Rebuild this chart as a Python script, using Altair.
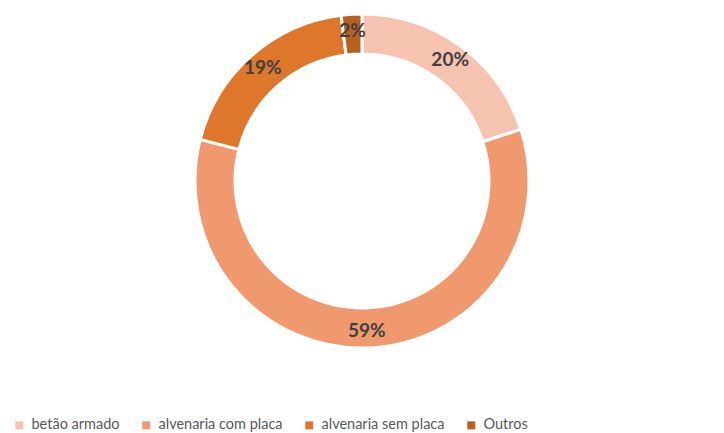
import altair as alt
import pandas as pd

categories = ["betão armado", "alvenaria com placa", "alvenaria sem placa", "Outros"]
values = [20, 59, 19, 2]
labels = ["20%", "59%", "19%", "2%"]
colors = ["#F5C3B0", "#F1996E", "#DE762C", "#B8601F"]

df = pd.DataFrame({"cat": categories, "val": values, "lab": labels, "ord": list(range(len(categories)))})

CX, CY = 354, 173

base = alt.Chart(df).encode(
    theta=alt.Theta("val:Q", stack=True),
    order=alt.Order("ord:Q"),
)

arcs = base.mark_arc(innerRadius=127, outerRadius=167, stroke="white", strokeWidth=3).encode(
    x=alt.value(CX), y=alt.value(CY),
    color=alt.Color("cat:N", sort=categories,
                    scale=alt.Scale(domain=categories, range=colors),
                    legend=alt.Legend(title=None, orient="none", direction="horizontal",
                                      legendX=4, legendY=410, symbolType="square", symbolSize=64,
                                      labelFont="Lato", labelFontSize=14.5, labelColor="#595959",
                                      labelOffset=5, columnPadding=19, symbolStrokeWidth=0)),
)

text = base.mark_text(radius=150, font="Lato", fontSize=19, fontWeight="bold", color="#404040").encode(
    x=alt.value(CX), y=alt.value(CY),
    text="lab:N",
)

chart = (arcs + text).properties(width=708, height=425, padding=0, autosize="none").configure_view(stroke=None)

chart.save("out.html", embed_options={"renderer": "svg", "actions": False})
